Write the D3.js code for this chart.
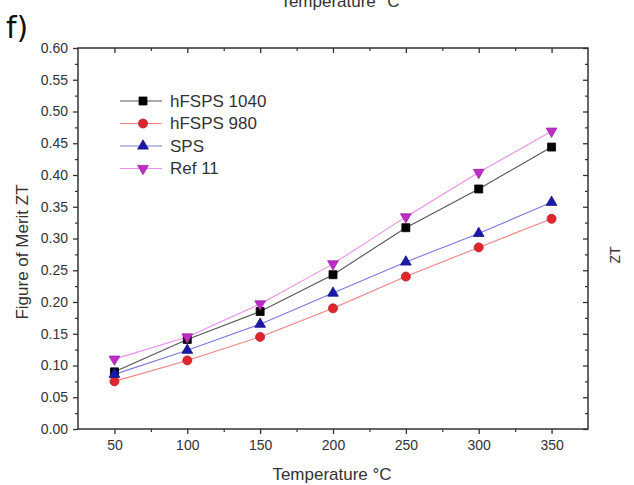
<!DOCTYPE html>
<html>
<head>
<meta charset="utf-8">
<script src="https://cdn.jsdelivr.net/npm/d3@7"></script>
<style>
  html, body { margin: 0; padding: 0; background: #fff; }
  svg { display: block; }
  text { font-family: "Liberation Sans", Arial, sans-serif; }
</style>
</head>
<body>
<svg id="chart" width="634" height="485"></svg>
<script>
// Temperatures (°C) and ZT values for each sample
const temperatures = [50, 100, 150, 200, 250, 300, 350];
const hfsps1040 = [0.090, 0.141, 0.185, 0.243, 0.317, 0.378, 0.444];
const hfsps980  = [0.075, 0.108, 0.145, 0.190, 0.240, 0.286, 0.331];
const sps       = [0.086, 0.124, 0.165, 0.214, 0.263, 0.308, 0.357];
const ref11     = [0.110, 0.145, 0.197, 0.260, 0.334, 0.404, 0.469];

const seriesNames = ["hFSPS 1040", "hFSPS 980", "SPS", "Ref 11"];
const xTicks = [50, 100, 150, 200, 250, 300, 350];
const yTicks = [0, 0.05, 0.10, 0.15, 0.20, 0.25, 0.30, 0.35, 0.40, 0.45, 0.50, 0.55, 0.60];

const series = [
  { name: seriesNames[0], values: hfsps1040, color: "#000000", line: "#555555", symbol: d3.symbolSquare,   size: 64, rot: 0 },
  { name: seriesNames[1], values: hfsps980,  color: "#e0262c", line: "#f08080", symbol: d3.symbolCircle,   size: 64, rot: 0 },
  { name: seriesNames[2], values: sps,       color: "#1a1aaa", line: "#7a7ae0", symbol: d3.symbolTriangle, size: 50, rot: 0 },
  { name: seriesNames[3], values: ref11,     color: "#c02cc8", line: "#e890ec", symbol: d3.symbolTriangle, size: 50, rot: 180 }
];

const svg = d3.select("#chart");
const plot = { left: 78, right: 588, top: 48, bottom: 429 };

const x = d3.scaleLinear().domain([25, 375]).range([plot.left, plot.right]);
const y = d3.scaleLinear().domain([0, 0.6]).range([plot.bottom, plot.top]);

const axisColor = "#333";
const textColor = "#333";

// Panel letter
svg.append("text").attr("x", 6).attr("y", 38)
  .style("font-family", "'DejaVu Sans', sans-serif")
  .style("font-size", "30px").attr("fill", "#111").text("f)");

// Clipped axis title of the panel above
svg.append("text").attr("x", 340).attr("y", 7).attr("text-anchor", "middle")
  .style("font-size", "17px").attr("fill", textColor).text("Temperature °C");

// Right-side fragment of the neighbouring panel's label
svg.append("text").attr("transform", "translate(620,255) rotate(-90)")
  .attr("text-anchor", "middle").style("font-size", "14px").attr("fill", textColor).text("ZT");

// Frame
svg.append("rect")
  .attr("x", plot.left).attr("y", plot.top)
  .attr("width", plot.right - plot.left).attr("height", plot.bottom - plot.top)
  .attr("fill", "none").attr("stroke", axisColor).attr("stroke-width", 1.5);

// Minor tick positions
const xMinor = d3.range(75, 351, 50);
const yMinor = d3.range(0.025, 0.6, 0.05);

// Bottom axis
const bottomAxis = svg.append("g").attr("transform", `translate(0,${plot.bottom})`)
  .call(d3.axisBottom(x).tickValues(xTicks).tickSize(5).tickPadding(6).tickFormat(d3.format("d")));
bottomAxis.select(".domain").remove();
bottomAxis.selectAll("line").attr("stroke", axisColor).attr("stroke-width", 1.3);
bottomAxis.selectAll("text").style("font-size", "14px").attr("fill", textColor);
svg.append("g").attr("transform", `translate(0,${plot.bottom})`)
  .call(d3.axisBottom(x).tickValues(xMinor).tickSize(3).tickFormat(""))
  .call(g => g.select(".domain").remove())
  .selectAll("line").attr("stroke", axisColor).attr("stroke-width", 1.2);

// Top axis (ticks pointing inward)
svg.append("g").attr("transform", `translate(0,${plot.top})`)
  .call(d3.axisBottom(x).tickValues(xTicks).tickSize(5).tickFormat(""))
  .call(g => g.select(".domain").remove())
  .selectAll("line").attr("stroke", axisColor).attr("stroke-width", 1.3);
svg.append("g").attr("transform", `translate(0,${plot.top})`)
  .call(d3.axisBottom(x).tickValues(xMinor).tickSize(3).tickFormat(""))
  .call(g => g.select(".domain").remove())
  .selectAll("line").attr("stroke", axisColor).attr("stroke-width", 1.2);

// Left axis
const leftAxis = svg.append("g").attr("transform", `translate(${plot.left},0)`)
  .call(d3.axisLeft(y).tickValues(yTicks).tickSize(5).tickPadding(5).tickFormat(d3.format(".2f")));
leftAxis.select(".domain").remove();
leftAxis.selectAll("line").attr("stroke", axisColor).attr("stroke-width", 1.3);
leftAxis.selectAll("text").style("font-size", "14px").attr("fill", textColor);
svg.append("g").attr("transform", `translate(${plot.left},0)`)
  .call(d3.axisLeft(y).tickValues(yMinor).tickSize(3).tickFormat(""))
  .call(g => g.select(".domain").remove())
  .selectAll("line").attr("stroke", axisColor).attr("stroke-width", 1.2);

// Right axis (ticks pointing inward)
svg.append("g").attr("transform", `translate(${plot.right},0)`)
  .call(d3.axisLeft(y).tickValues(yTicks).tickSize(5).tickFormat(""))
  .call(g => g.select(".domain").remove())
  .selectAll("line").attr("stroke", axisColor).attr("stroke-width", 1.3);
svg.append("g").attr("transform", `translate(${plot.right},0)`)
  .call(d3.axisLeft(y).tickValues(yMinor).tickSize(3).tickFormat(""))
  .call(g => g.select(".domain").remove())
  .selectAll("line").attr("stroke", axisColor).attr("stroke-width", 1.2);

// Axis titles
svg.append("text").attr("x", 332).attr("y", 480).attr("text-anchor", "middle")
  .style("font-size", "17px").attr("fill", textColor).text("Temperature °C");
svg.append("text").attr("transform", "translate(28,252) rotate(-90)")
  .attr("text-anchor", "middle").style("font-size", "17px").attr("fill", textColor)
  .text("Figure of Merit ZT");

// Series lines and markers
const line = d3.line().x((d, i) => x(temperatures[i])).y(d => y(d));

series.forEach(s => {
  svg.append("path").datum(s.values)
    .attr("d", line).attr("fill", "none")
    .attr("stroke", s.line).attr("stroke-width", 1.1);
});
series.forEach(s => {
  svg.append("g").selectAll("path").data(s.values).join("path")
    .attr("d", d3.symbol().type(s.symbol).size(s.size))
    .attr("transform", (d, i) => `translate(${x(temperatures[i])},${y(d)}) rotate(${s.rot})`)
    .attr("fill", s.color).attr("stroke", d3.color(s.color).darker(0.6)).attr("stroke-width", 0.8);
});

// Legend
const legend = svg.append("g").attr("transform", "translate(120,101)");
series.forEach((s, i) => {
  const row = legend.append("g").attr("transform", `translate(0,${i * 22.5})`);
  row.append("line").attr("x1", 0).attr("x2", 42).attr("y1", 0).attr("y2", 0)
    .attr("stroke", s.line).attr("stroke-width", 1.1);
  row.append("path").attr("d", d3.symbol().type(s.symbol).size(s.size))
    .attr("transform", `translate(23,0) rotate(${s.rot})`)
    .attr("fill", s.color).attr("stroke", d3.color(s.color).darker(0.6)).attr("stroke-width", 0.8);
  row.append("text").attr("x", 50).attr("y", 0).attr("dy", "0.35em")
    .style("font-size", "17px").attr("fill", textColor).text(s.name);
});
</script>
</body>
</html>
